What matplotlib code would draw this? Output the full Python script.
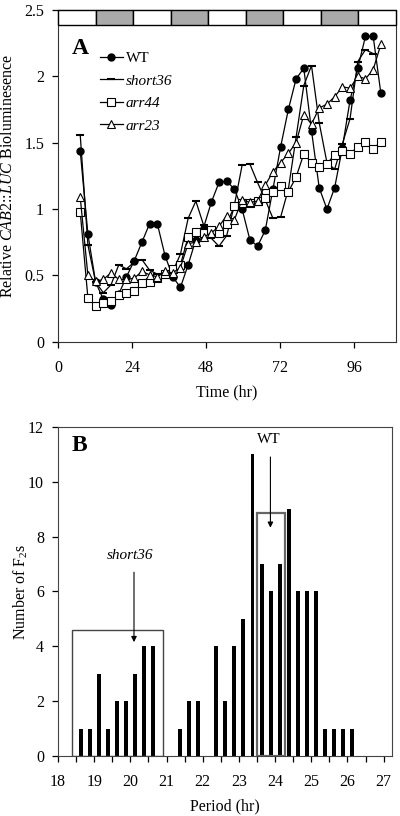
import numpy as np
import matplotlib
matplotlib.use("Agg")
import matplotlib.pyplot as plt
from matplotlib.patches import Rectangle

plt.rcParams['font.family'] = ['Liberation Serif', 'DejaVu Serif']
plt.rcParams['mathtext.fontset'] = 'custom'
plt.rcParams['mathtext.rm'] = 'Liberation Serif'
plt.rcParams['mathtext.it'] = 'Liberation Serif:italic'

# Panel A: luminescence time courses
time_hr = [7.2, 9.7, 12.2, 14.7, 17.2, 19.7, 22.2, 24.7, 27.2, 29.7,
           32.2, 34.7, 37.2, 39.7, 42.2, 44.7, 47.2, 49.7, 52.2, 54.7,
           57.2, 59.7, 62.2, 64.7, 67.2, 69.7, 72.2, 74.7, 77.2, 79.7,
           82.2, 84.7, 87.2, 89.7, 92.2, 94.7, 97.2, 99.7, 102.2, 104.7]

wt = [1.44, 0.81, 0.45, 0.32, 0.28, 0.36, 0.49, 0.61, 0.75, 0.89,
      0.89, 0.65, 0.49, 0.41, 0.58, 0.77, 0.86, 1.05, 1.20, 1.21,
      1.15, 1.00, 0.77, 0.72, 0.84, 1.15, 1.47, 1.75, 1.98, 2.06,
      1.59, 1.16, 1.00, 1.16, 1.46, 1.82, 2.06, 2.30, 2.30, 1.87]

short36 = [1.56, 0.73, 0.45, 0.37, 0.43, 0.58, 0.55, 0.60, 0.62, 0.54,
           0.51, 0.50, 0.53, 0.66, 0.93, 1.06, 0.88, 0.78, 0.72, 0.80,
           1.03, 1.33, 1.34, 1.20, 1.07, 0.93, 0.94, 1.15, 1.54, 1.93,
           2.08, 1.65, 1.35, 1.30, 1.49, 1.68, 2.11, 2.20, 2.17]

arr44 = [0.98, 0.33, 0.27, 0.29, 0.31, 0.35, 0.37, 0.38, 0.44, 0.45,
         0.48, 0.51, 0.55, 0.58, 0.79, 0.83, 0.82, 0.845, 0.82, 0.89,
         1.02, 1.045, 1.045, 1.06, 1.08, 1.13, 1.17, 1.13, 1.24, 1.415,
         1.35, 1.32, 1.34, 1.41, 1.435, 1.415, 1.47, 1.505, 1.455, 1.505]

arr23 = [1.09, 0.50, 0.455, 0.47, 0.52, 0.47, 0.47, 0.48, 0.53, 0.505,
         0.49, 0.53, 0.52, 0.56, 0.74, 0.75, 0.79, 0.82, 0.87, 0.95,
         0.92, 1.07, 1.05, 1.06, 1.18, 1.28, 1.35, 1.42, 1.50, 1.71,
         1.64, 1.76, 1.79, 1.845, 1.92, 1.91, 2.00, 1.98, 2.05, 2.24]

# light (white) / dark (gray) segments along the top of panel A
light_dark = ['white', '#aaaaaa', 'white', '#aaaaaa', 'white',
              '#aaaaaa', 'white', '#aaaaaa', 'white']

# Panel B: period distribution of F2s
period_hr = [18.625, 18.875, 19.125, 19.375, 19.625, 19.875, 20.125, 20.375, 20.625,
             21.375, 21.625, 21.875,
             22.375, 22.625, 22.875, 23.125, 23.375, 23.625, 23.875, 24.125,
             24.375, 24.625, 24.875, 25.125, 25.375, 25.625, 25.875, 26.125]
n_f2 = [1, 1, 3, 1, 2, 2, 3, 4, 4,
        1, 2, 2,
        4, 2, 4, 5, 11, 7, 6, 7, 9, 6, 6, 6, 1, 1, 1, 1]

fig = plt.figure(figsize=(4, 8.16), dpi=100)
axA = fig.add_axes([0.145, 0.581, 0.845, 0.407])
axB = fig.add_axes([0.145, 0.0735, 0.835, 0.4035])

# ---- panel A ----
xmax = 109.6
axA.plot(time_hr, wt, '-o', color='black', lw=0.9, ms=5, label='WT')
axA.plot(time_hr[:len(short36)], short36, '-_', color='black', lw=0.9, ms=5.5,
         mew=1.5, label='short36')
axA.plot(time_hr, arr44, '-s', color='black', lw=0.9, ms=5.5, mfc='white',
         mew=0.8, label='arr44')
axA.plot(time_hr, arr23, '-^', color='black', lw=0.9, ms=5.5, mfc='white',
         mew=0.8, label='arr23')

edges = np.linspace(0, xmax, len(light_dark) + 1)
for i, c in enumerate(light_dark):
    axA.add_patch(Rectangle((edges[i], 2.387), edges[i + 1] - edges[i], 0.113,
                            facecolor=c, edgecolor='black', lw=1, zorder=5,
                            clip_on=False))

axA.set_xlim(0, xmax)
axA.set_ylim(0, 2.5)
axA.set_xticks([0, 24, 48, 72, 96])
axA.set_yticks([0, 0.5, 1, 1.5, 2, 2.5])
axA.set_yticklabels(['0', '0.5', '1', '1.5', '2', '2.5'])
axA.tick_params(direction='out', length=4, width=0.9, labelsize=11.5)
axA.tick_params(axis='x', pad=9)
axA.tick_params(axis='y', pad=6)
axA.set_xlabel('Time (hr)', fontsize=11.5, labelpad=6)
axA.set_ylabel('Relative $\\mathit{CAB2}$::$\\mathit{LUC}$ Bioluminesence', fontsize=11.5)
axA.yaxis.set_label_coords(-0.125, 0.5)
axA.text(7.1, 2.21, 'A', fontsize=17, fontweight='bold', ha='center', va='center')

leg = axA.legend(loc='upper left', bbox_to_anchor=(0.124, 0.874), frameon=False,
                 fontsize=11, handlelength=1.5, handletextpad=0.2,
                 labelspacing=0.57, borderpad=0, borderaxespad=0)
for t in leg.get_texts()[1:]:
    t.set_fontstyle('italic')

for sp in axA.spines.values():
    sp.set_color('#333333')

# ---- panel B ----
axB.bar(period_hr, n_f2, width=0.11, color='black', zorder=2)
axB.add_patch(Rectangle((18.38, 0), 20.9 - 18.38, 4.6, fill=False,
                        edgecolor='#444444', lw=1, zorder=3))
axB.add_patch(Rectangle((23.5, 0), 24.27 - 23.5, 8.86, fill=False,
                        edgecolor='#666666', lw=1.6, zorder=3))
axB.annotate('', xy=(20.1, 4.05), xytext=(20.1, 6.8),
             arrowprops=dict(arrowstyle='-|>', color='black', lw=0.8,
                             mutation_scale=8))
axB.text(20.0, 7.3, 'short36', fontsize=11, fontstyle='italic',
         ha='center', va='center')
axB.annotate('', xy=(23.87, 8.22), xytext=(23.87, 11.0),
             arrowprops=dict(arrowstyle='-|>', color='black', lw=0.8,
                             mutation_scale=8))
axB.text(23.83, 11.55, 'WT', fontsize=11, ha='center', va='center')
axB.text(18.6, 11.3, 'B', fontsize=17, fontweight='bold', ha='center', va='center')

axB.set_xlim(18, 27.23)
axB.set_ylim(0, 12)
axB.set_xticks(range(18, 28))
axB.set_xticks(np.arange(18.5, 27, 1), minor=True)
axB.set_yticks(range(0, 13, 2))
axB.tick_params(which='both', direction='out', length=4, width=0.9, labelsize=11.5)
axB.tick_params(axis='x', pad=9)
axB.tick_params(axis='y', pad=6)
axB.set_xlabel('Period (hr)', fontsize=11.5, labelpad=6)
axB.set_ylabel('Number of F$_2$s', fontsize=11.5)
axB.yaxis.set_label_coords(-0.085, 0.5)
for sp in axB.spines.values():
    sp.set_color('#444444')

fig.savefig('out.png', dpi=100)
